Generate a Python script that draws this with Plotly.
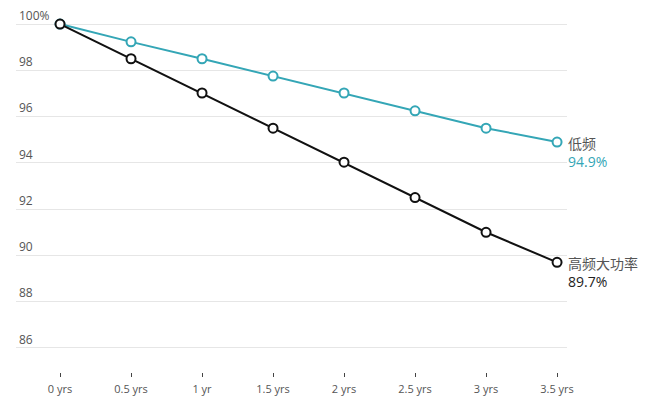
import plotly.graph_objects as go

years = [0, 0.5, 1, 1.5, 2, 2.5, 3, 3.5]
x_labels = ["0 yrs", "0.5 yrs", "1 yr", "1.5 yrs", "2 yrs", "2.5 yrs", "3 yrs", "3.5 yrs"]
low_freq = [100, 99.23, 98.5, 97.75, 97.02, 96.25, 95.5, 94.9]
high_freq = [100, 98.5, 97.02, 95.5, 94.03, 92.5, 91.0, 89.7]
y_ticks = [86, 88, 90, 92, 94, 96, 98, 100]
y_tick_text = ["86", "88", "90", "92", "94", "96", "98", "100%"]
series_names = ["低频", "高频大功率"]

teal = "#34a6b6"
black = "#111111"
font_family = "Open Sans, Noto Sans CJK SC, sans-serif"

fig = go.Figure()
for vals, color in [(low_freq, teal), (high_freq, black)]:
    fig.add_trace(go.Scatter(
        x=years, y=vals, mode="lines+markers",
        line=dict(color=color, width=2),
        marker=dict(symbol="circle", size=9, color="white",
                    line=dict(color=color, width=2)),
        hoverinfo="skip", showlegend=False,
    ))

for name, vals, color in [(series_names[0], low_freq, teal), (series_names[1], high_freq, "#222222")]:
    fig.add_annotation(
        x=years[-1], y=vals[-1], xref="x", yref="y",
        text=f"<span style='color:#555'>{name}</span><br><span style='color:{color}'>{vals[-1]:.1f}%</span>",
        showarrow=False, xanchor="left", yanchor="top", align="left",
        xshift=9, yshift=10, font=dict(size=14, family=font_family),
    )

fig.update_layout(
    width=650, height=401,
    margin=dict(l=16, r=83, t=0, b=29),
    plot_bgcolor="white", paper_bgcolor="white",
    font=dict(family=font_family, color="#555555"),
)
fig.update_xaxes(
    range=[-0.31, 3.57], tickvals=years, ticktext=x_labels,
    showgrid=False, zeroline=False, showline=False,
    ticks="outside", ticklen=4, tickwidth=1, tickcolor="#444",
    ticklabelstandoff=3,
    tickfont=dict(size=11, color="#555555"),
)
fig.update_yaxes(
    range=[84.96, 101.04], tickvals=y_ticks, ticktext=y_tick_text,
    showgrid=True, gridcolor="#e6e6e6", gridwidth=1,
    zeroline=False, showline=False,
    ticklabelposition="inside top",
    tickfont=dict(size=12, color="#555555"),
)

fig.write_html("out.html")
